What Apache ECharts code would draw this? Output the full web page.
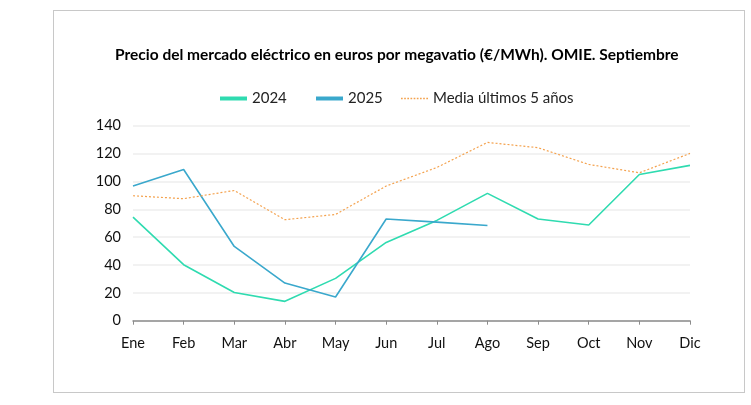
<!DOCTYPE html>
<html><head><meta charset="utf-8">
<script src="https://cdn.jsdelivr.net/npm/echarts@6/dist/echarts.min.js"></script>
<style>html,body{margin:0;padding:0;background:#fff}#box{position:absolute;left:53px;top:10px;width:692px;height:383px;border:1px solid #c8c8c8;box-sizing:border-box}#c{width:751px;height:405px;position:absolute;left:0;top:0}</style>
</head><body><div id="box"></div><div id="c"></div>
<script>
const months = ['Ene','Feb','Mar','Abr','May','Jun','Jul','Ago','Sep','Oct','Nov','Dic'];
const s2024 = [74.4,40.2,20.3,13.9,30.4,56.2,72,91.4,73,68.7,105,111.5];
const s2025 = [96.7,108.6,53.3,27,17,73,70.8,68.4,null,null,null,null];
const sMedia = [89.7,87.6,93.5,72.5,76.3,96.7,110,128,124.2,112.2,106.2,120.1];
const yTicks = [0,20,40,60,80,100,120,140];
const FONT = 'Lato';
const C24 = '#2fdbb0', C25 = '#3aa8cc', CM = '#f4a24e';
let dots = '';
for (let i = 0; i < 9; i++) { dots += 'M' + (i*3) + ',0h1.6v1.5h-1.6z'; }
const barIcon = 'path://M0,0L27,0L27,4L0,4Z';
const legStyle = {fontFamily: FONT, fontSize: 15, color: '#222'};
function leg(name, left, icon) {
  return {top: 86, left: left, itemWidth: 27, itemHeight: 10, itemGap: 5, textStyle: legStyle,
    data: [{name: name, icon: icon}]};
}
const chart = echarts.init(document.getElementById('c'));
chart.setOption({
  backgroundColor: 'transparent',
  animation: false,
  title: {text: 'Precio del mercado eléctrico en euros por megavatio (€/MWh). OMIE. Septiembre', left: 110, top: 42,
    textStyle: {fontFamily: FONT, fontWeight: 'bold', fontSize: 15.5, color: '#000'}},
  legend: [leg('2024', 215, barIcon), leg('2025', 311, barIcon), leg('Media últimos 5 años', 396, 'path://' + dots)],
  grid: {left: 133, right: 61, top: 125.7, bottom: 84.3},
  xAxis: {type: 'category', data: months, boundaryGap: false,
    axisLine: {lineStyle: {color: '#8c8c8c', width: 1.5}},
    axisTick: {show: true, length: 4, alignWithLabel: true, lineStyle: {color: '#8c8c8c'}},
    axisLabel: {fontFamily: FONT, fontSize: 14.5, color: '#111', margin: 15}},
  yAxis: {type: 'value', min: yTicks[0], max: yTicks[yTicks.length-1], interval: 20,
    axisLine: {show: false}, axisTick: {show: false},
    splitLine: {lineStyle: {color: '#eeeeee', width: 1.5}},
    axisLabel: {fontFamily: FONT, fontSize: 14.5, color: '#111', margin: 12}},
  series: [
    {name: '2024', type: 'line', data: s2024, symbol: 'none', color: C24, lineStyle: {width: 1.6, color: C24}},
    {name: '2025', type: 'line', data: s2025, symbol: 'none', color: C25, lineStyle: {width: 1.6, color: C25}},
    {name: 'Media últimos 5 años', type: 'line', data: sMedia, symbol: 'none', color: CM, lineStyle: {width: 1.2, type: [2,2], color: CM}}
  ]
});
</script></body></html>
